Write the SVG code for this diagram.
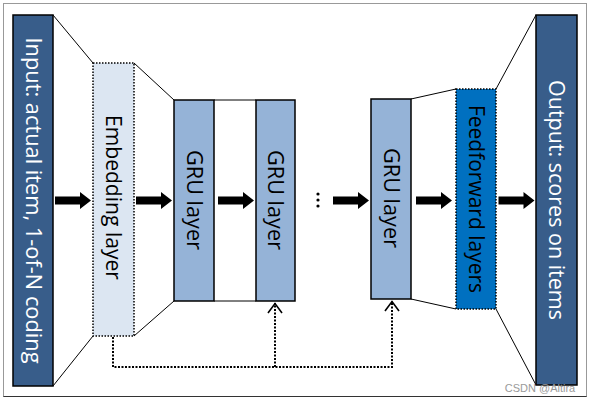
<svg xmlns="http://www.w3.org/2000/svg" width="590" height="403" viewBox="0 0 590 403">
<style>
.dark{fill:#385d8a;stroke:#000;stroke-width:1.5}
.gru{fill:#95b3d7;stroke:#000;stroke-width:1.5}
.emb{fill:#dce6f2;stroke:#000;stroke-width:1.5;stroke-dasharray:1.5 1.5}
.ff{fill:#0070c0;stroke:#000;stroke-width:1.5;stroke-dasharray:1.5 1.5}
.thin{stroke:#000;stroke-width:1;fill:none}
.dot{stroke:#000;stroke-width:2;fill:none;stroke-dasharray:2 1.5}
.lbl{font-family:"Open Sans","Liberation Sans",sans-serif;font-size:21px;text-anchor:middle}
.w{fill:#fff}
.b{fill:#000}
</style>
<defs>
<path id="arr" d="M0,-4 H25 V-8.5 L36,0 L25,8.5 V4 H0 Z" fill="#000"/>
<marker id="open" viewBox="0 0 12 16" refX="11" refY="8" markerWidth="12" markerHeight="16" markerUnits="userSpaceOnUse" orient="auto">
<path d="M1,1 L10.5,8 L1,15" fill="none" stroke="#000" stroke-width="1.6"/>
</marker>
</defs>
<rect x="0" y="0" width="590" height="403" fill="#fff"/>
<rect x="3.5" y="3.5" width="583" height="393" fill="none" stroke="#999" stroke-width="1"/>
<line x1="3.5" y1="396.5" x2="586.5" y2="396.5" stroke="#333" stroke-width="1"/>

<g id="connectors">
<line class="thin" x1="53" y1="15" x2="93" y2="63"/>
<line class="thin" x1="53" y1="386" x2="93" y2="336"/>
<line class="thin" x1="134" y1="63" x2="174" y2="100"/>
<line class="thin" x1="134" y1="336" x2="174" y2="301"/>
<line class="thin" x1="214" y1="100" x2="256" y2="100"/>
<line class="thin" x1="214" y1="301" x2="256" y2="301"/>
<line class="thin" x1="411" y1="99" x2="456" y2="89"/>
<line class="thin" x1="411" y1="299" x2="456" y2="309"/>
<line class="thin" x1="496" y1="89" x2="536" y2="15"/>
<line class="thin" x1="496" y1="309" x2="536" y2="385"/>
<use href="#arr" x="55" y="200.5"/>
<use href="#arr" x="136" y="200.5"/>
<use href="#arr" x="218" y="200.5"/>
<use href="#arr" x="333" y="200.5"/>
<use href="#arr" x="416" y="200.5"/>
<use href="#arr" x="498.5" y="200.5"/>
<path class="dot" d="M113,337 V367 H392 V301" marker-end="url(#open)"/>
<path class="dot" d="M275,367 V303" marker-end="url(#open)"/>
<circle cx="318" cy="194" r="1.6"/>
<circle cx="318" cy="200" r="1.6"/>
<circle cx="318" cy="206" r="1.6"/>
</g>

<g id="input">
<rect class="dark" x="13" y="15" width="40" height="371"/>
<text class="lbl w" transform="translate(33,200.5) rotate(90)" dy="0.35em" textLength="326" lengthAdjust="spacingAndGlyphs">Input: actual item, 1-of-N coding</text>
</g>
<g id="embedding">
<rect class="emb" x="93" y="63" width="41" height="273"/>
<text class="lbl b" transform="translate(113.5,197.5) rotate(90)" dy="0.35em" textLength="165" lengthAdjust="spacingAndGlyphs">Embedding layer</text>
</g>
<g id="gru1">
<rect class="gru" x="174" y="100" width="40" height="201"/>
<text class="lbl b" transform="translate(194,200) rotate(90)" dy="0.35em" textLength="100" lengthAdjust="spacingAndGlyphs">GRU layer</text>
</g>
<g id="gru2">
<rect class="gru" x="256" y="100" width="39" height="201"/>
<text class="lbl b" transform="translate(275.5,200) rotate(90)" dy="0.35em" textLength="100" lengthAdjust="spacingAndGlyphs">GRU layer</text>
</g>
<g id="gru3">
<rect class="gru" x="371" y="99" width="40" height="200"/>
<text class="lbl b" transform="translate(391,198) rotate(90)" dy="0.35em" textLength="100" lengthAdjust="spacingAndGlyphs">GRU layer</text>
</g>
<g id="feedforward">
<rect class="ff" x="456" y="89" width="40" height="220"/>
<text class="lbl b" transform="translate(476,199) rotate(90)" dy="0.35em" textLength="188" lengthAdjust="spacingAndGlyphs">Feedforward layers</text>
</g>
<g id="output">
<rect class="dark" x="536" y="15" width="41" height="370"/>
<text class="lbl w" transform="translate(556.5,200) rotate(90)" dy="0.35em" textLength="240" lengthAdjust="spacingAndGlyphs">Output: scores on items</text>
</g>
<text x="540" y="392" font-family="Liberation Sans, Arial, sans-serif" font-size="11" fill="#9a9a9a" text-anchor="middle">CSDN @Altira</text>
</svg>
